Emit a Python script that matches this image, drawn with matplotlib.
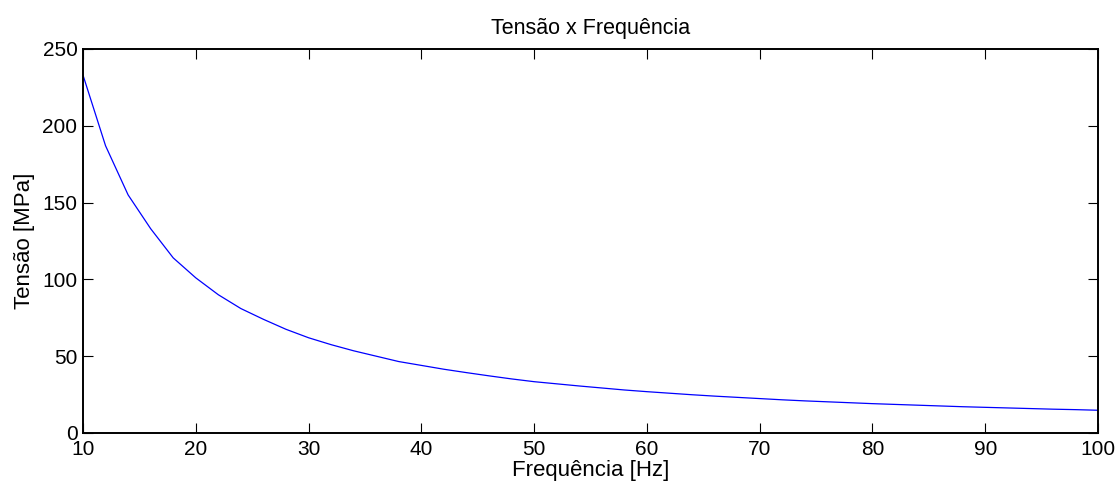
import matplotlib
matplotlib.use("Agg")
import matplotlib.pyplot as plt

plt.rcParams['font.family'] = ['Liberation Sans', 'DejaVu Sans']

# valores (a cada 2 Hz)
frequencia = [10, 12, 14, 16, 18, 20, 22, 24, 26, 28, 30, 32, 34, 36, 38, 40,
              42, 44, 46, 48, 50, 52, 54, 56, 58, 60, 62, 64, 66, 68, 70, 72,
              74, 76, 78, 80, 82, 84, 86, 88, 90, 92, 94, 96, 98, 100]
tensao = [233, 187, 155, 133, 114, 101, 90, 81, 74, 67.5, 62, 57.5, 53.5, 50,
          46.5, 44, 41.5, 39.3, 37.2, 35.2, 33.4, 32, 30.6, 29.3, 28, 26.9,
          25.9, 24.9, 24, 23.2, 22.4, 21.6, 20.9, 20.3, 19.7, 19.1, 18.6, 18.1,
          17.6, 17.1, 16.7, 16.3, 15.9, 15.5, 15.2, 14.8]
xticks = [10, 20, 30, 40, 50, 60, 70, 80, 90, 100]
yticks = [0, 50, 100, 150, 200, 250]

fig = plt.figure(figsize=(11.2, 4.84), dpi=100)
ax = fig.add_axes([0.0741, 0.1054, 0.9063, 0.7934])
ax.plot(frequencia, tensao, color='blue', linewidth=0.9)
ax.set_xlim(10, 100)
ax.set_ylim(0, 250)
ax.set_xticks(xticks)
ax.set_yticks(yticks)
ax.tick_params(direction='in', top=True, right=True, labelsize=15, length=7, width=0.8)
ax.tick_params(axis='x', pad=5)
ax.tick_params(axis='y', pad=4)
for s in ax.spines.values():
    s.set_linewidth(1.4)
ax.set_title("Tensão x Frequência", fontsize=15.5, pad=11)
ax.set_xlabel("Frequência [Hz]", fontsize=16, labelpad=1)
ax.set_ylabel("Tensão [MPa]", fontsize=16, labelpad=5)

fig.savefig("out.png", dpi=100)
